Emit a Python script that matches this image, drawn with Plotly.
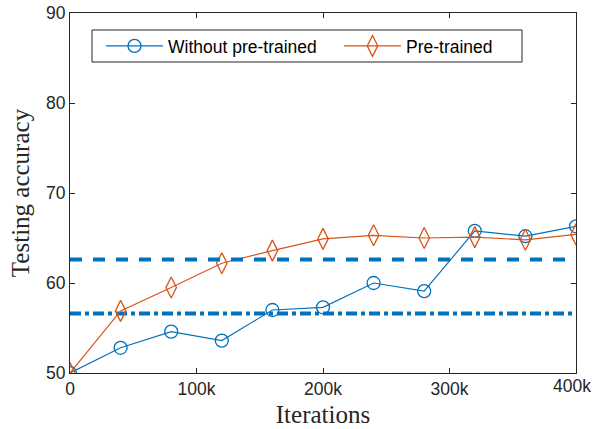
import plotly.graph_objects as go

iters = [0, 40000, 80000, 120000, 160000, 200000, 240000, 280000, 320000, 360000, 400000]
without_pre = [50.0, 52.8, 54.6, 53.6, 57.0, 57.3, 60.0, 59.1, 65.8, 65.2, 66.3]
pre_trained = [50.0, 56.9, 59.5, 62.2, 63.6, 64.9, 65.3, 65.0, 65.1, 64.8, 65.4]
ref_x = [0, 400000]
ref_dash = [62.6, 62.6]
ref_dashdot = [56.6, 56.6]
xtick_vals = [0, 100000, 200000, 300000, 400000]
xtick_text = ["0", "100k", "200k", "300k", "400k"]
ytick_vals = [50, 60, 70, 80, 90]

BLUE = "#0072BD"
ORANGE = "#D95319"
SANS = "Liberation Sans, Arial"
SERIF = "Liberation Serif, Times New Roman"

L, R, T, B = 70, 16, 13, 56
PW, PH = 592 - L - R, 429 - T - B

fig = go.Figure()
fig.add_trace(go.Scatter(x=ref_x, y=ref_dash, mode="lines", showlegend=False, xaxis="x2",
                         line=dict(color=BLUE, width=4, dash="12px,11px")))
fig.add_trace(go.Scatter(x=ref_x, y=ref_dashdot, mode="lines", showlegend=False,
                         line=dict(color=BLUE, width=4, dash="11px,4px,4px,4px")))
fig.add_trace(go.Scatter(x=iters, y=without_pre, mode="lines+markers", name="Without pre-trained",
                         legendwidth=166,
                         line=dict(color=BLUE, width=1.2),
                         marker=dict(symbol="circle-open", size=13, color=BLUE, line=dict(width=1.3))))
fig.add_trace(go.Scatter(x=iters, y=pre_trained, mode="lines+markers", name="Pre-trained",
                         line=dict(color=ORANGE, width=1.2),
                         marker=dict(symbol="diamond-tall-open", size=15, color=ORANGE, line=dict(width=1.3))))

tickfont = dict(family=SANS, size=17.5, color="#262626")
axis_common = dict(showline=True, linecolor="#262626", linewidth=1, mirror="ticks",
                   ticks="inside", ticklen=5, tickcolor="#262626", showgrid=False, zeroline=False,
                   automargin=False, ticklabeloverflow="allow", tickfont=tickfont)

fig.update_layout(
    width=592, height=429,
    margin=dict(l=L, r=R, t=T, b=B),
    paper_bgcolor="white", plot_bgcolor="white",
    xaxis=dict(range=[0, 400000], tickvals=xtick_vals,
               ticktext=xtick_text[:-1] + [""],
               title=dict(text="Iterations", font=dict(family=SERIF, size=25, color="#262626"), standoff=7),
               **axis_common),
    xaxis2=dict(range=[0, 400000], overlaying="x", side="bottom", anchor="y",
                tickvals=xtick_vals[-1:], ticktext=xtick_text[-1:], ticks="", showline=False,
                showgrid=False, zeroline=False, automargin=False, ticklabelshift=-4,
                ticklabeloverflow="allow", tickfont=tickfont),
    yaxis=dict(range=[50, 90], tickvals=ytick_vals,
               title=dict(text="Testing accuracy", font=dict(family=SERIF, size=25, color="#262626"), standoff=9),
               **axis_common),
    legend=dict(orientation="h", x=(101 - L) / PW, y=(373 - 46) / PH, xanchor="left", yanchor="middle",
                borderwidth=0, bgcolor="rgba(0,0,0,0)",
                font=dict(family=SANS, size=17.5, color="black"),
                itemwidth=57),
    shapes=[dict(type="rect", xref="paper", yref="paper",
                 x0=(92 - L) / PW, x1=(522 - L) / PW,
                 y0=(373 - 62) / PH, y1=(373 - 30) / PH,
                 line=dict(color="#262626", width=1), fillcolor="white", layer="below")],
)

fig.write_html("out.html", config={"displayModeBar": False},
               post_script="document.body.style.margin='0';")
